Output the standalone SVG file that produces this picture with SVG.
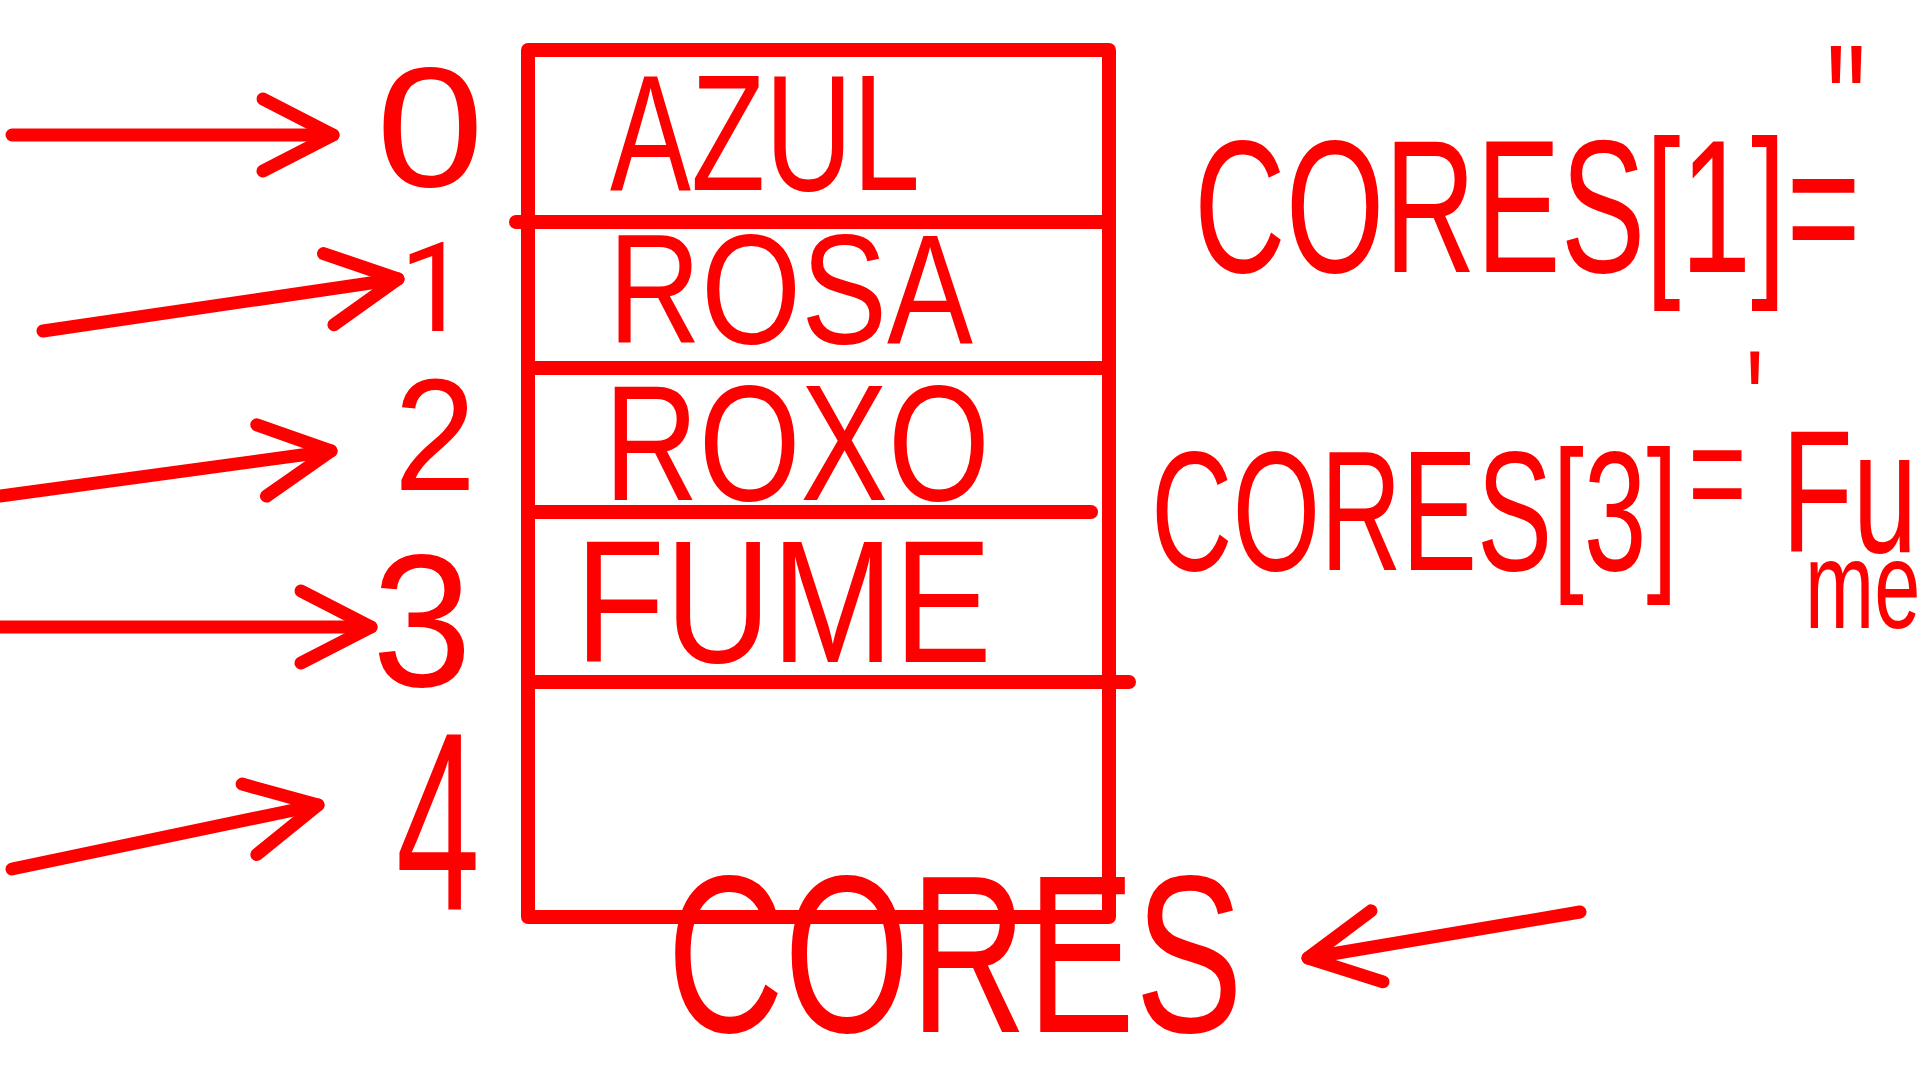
<svg xmlns="http://www.w3.org/2000/svg" width="1920" height="1080" viewBox="0 0 1920 1080">
<style>
.t{fill:#ff0000;font-family:"Liberation Sans",Arial,sans-serif;}
.ln{stroke:#ff0000;stroke-width:14;fill:none;stroke-linecap:round;stroke-linejoin:round;}
.ar{stroke:#ff0000;stroke-width:13;fill:none;stroke-linecap:round;marker-end:url(#ah);}
</style>
<defs>
<marker id="ah" markerUnits="userSpaceOnUse" markerWidth="120" markerHeight="120" refX="0" refY="0" orient="auto" viewBox="-90 -60 120 120" style="overflow:visible">
<path d="M-70,-36 L0,0 L-70,36" fill="none" stroke="#ff0000" stroke-width="13" stroke-linecap="round" stroke-linejoin="round"/>
</marker>
</defs>
<rect width="1920" height="1080" fill="#ffffff"/>

<g id="array-cores">
<rect x="528" y="50" width="581" height="867" class="ln" stroke-linecap="butt" stroke-linejoin="miter"/>
<line x1="516" y1="222" x2="1109" y2="222" class="ln"/>
<line x1="528" y1="368" x2="1109" y2="368" class="ln"/>
<line x1="528" y1="512" x2="1091" y2="512" class="ln"/>
<line x1="528" y1="682" x2="1129" y2="682" class="ln"/>
</g>

<g id="cell-0"><text class="t" x="610" y="190" font-size="165" textLength="310" lengthAdjust="spacingAndGlyphs">AZUL</text></g>
<g id="cell-1"><text class="t" x="608" y="343" font-size="155" textLength="365" lengthAdjust="spacingAndGlyphs">ROSA</text></g>
<g id="cell-2"><text class="t" x="604" y="500" font-size="165" textLength="386" lengthAdjust="spacingAndGlyphs">ROXO</text></g>
<g id="cell-3"><text class="t" x="575" y="662" font-size="175" textLength="417" lengthAdjust="spacingAndGlyphs">FUME</text></g>

<g id="index-0"><text class="t" x="376" y="186" font-size="170" textLength="108" lengthAdjust="spacingAndGlyphs">0</text></g>
<g id="index-1"><text class="t" x="434" y="331" font-size="124" text-anchor="middle" style="font-family:Roboto,'Liberation Sans',sans-serif">1</text></g>
<g id="index-2"><text class="t" x="394" y="490" font-size="160" textLength="82" lengthAdjust="spacingAndGlyphs">2</text></g>
<g id="index-3"><text class="t" x="372" y="686" font-size="190" textLength="100" lengthAdjust="spacingAndGlyphs">3</text></g>
<g id="index-4"><text class="t" x="396" y="910" font-size="255" textLength="84" lengthAdjust="spacingAndGlyphs">4</text></g>

<g id="label-cores"><text class="t" x="667" y="1032" font-size="225" textLength="576" lengthAdjust="spacingAndGlyphs">CORES</text></g>

<g id="expr-1">
<text class="t" font-size="190" transform="translate(1194,272) scale(0.668,1)">CORES[1]=<tspan x="946" y="-108" font-size="170">"</tspan></text>
</g>

<g id="expr-3">
<text class="t" font-size="170" transform="translate(1151,570) scale(0.664,1)">CORES[3]<tspan x="809" y="-46" font-size="150">=</tspan><tspan x="895" y="-115" font-size="150">'</tspan><tspan x="950" y="-18" font-size="175">Fu</tspan><tspan x="985" y="58" font-size="125">me</tspan></text>
</g>

<g id="connectors">
<line x1="12" y1="135" x2="333" y2="135" class="ar"/>
<line x1="43" y1="331" x2="398" y2="279" class="ar"/>
<line x1="0" y1="496" x2="331" y2="451" class="ar"/>
<line x1="0" y1="627" x2="371" y2="627" class="ar"/>
<line x1="12" y1="869" x2="318" y2="805" class="ar"/>
<line x1="1580" y1="912" x2="1308" y2="958" class="ar"/>
</g>
</svg>
